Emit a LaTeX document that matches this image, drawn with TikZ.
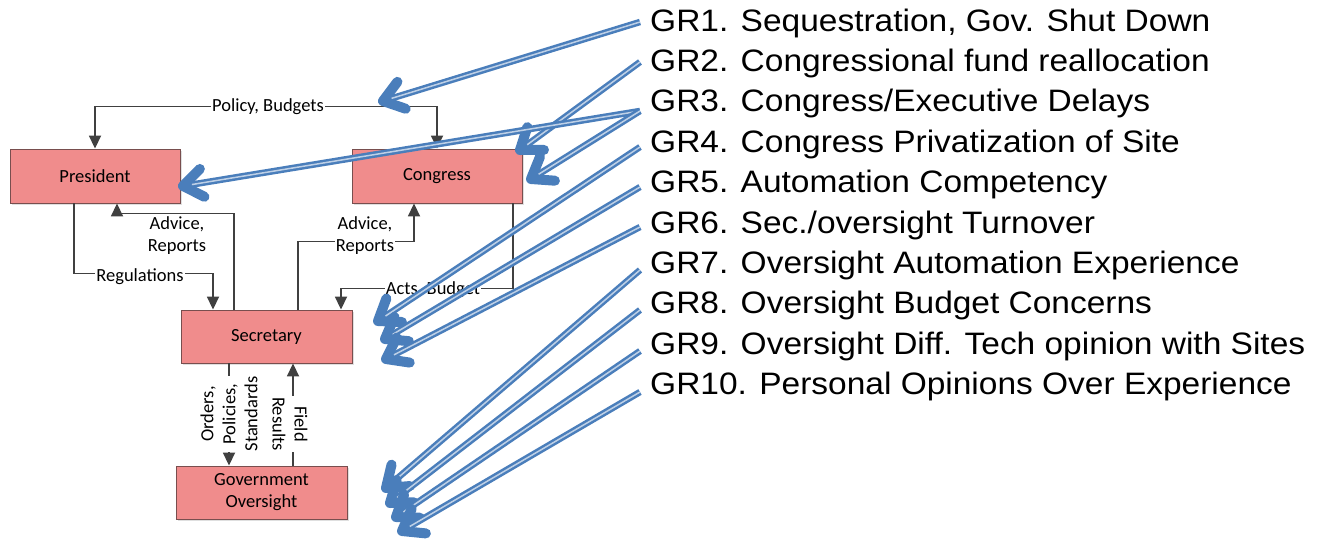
\documentclass[tikz,border=0pt]{standalone}
\usepackage{fontspec}
\setmainfont{Carlito}
\newfontfamily\grfont[FakeStretch=1.08]{Liberation Sans}
\usetikzlibrary{arrows.meta,calc,shadows}
\definecolor{boxfill}{RGB}{240,140,140}
\definecolor{boxline}{RGB}{120,78,78}
\definecolor{connc}{RGB}{64,64,64}
\definecolor{grblue}{RGB}{74,126,187}
\definecolor{grinner}{RGB}{190,208,230}
\tikzset{
  box/.style={draw=boxline, line width=0.9pt, fill=boxfill, font=\fontsize{18.5}{22}\selectfont,
    drop shadow={opacity=0.25, shadow xshift=2pt, shadow yshift=-2pt}, align=center, inner sep=0pt},
  conn/.style={draw=connc, line width=1.8pt, -{Triangle[length=13pt,width=12pt]}},
  lbl/.style={fill=white, inner sep=1pt, font=\fontsize{18.5}{22}\selectfont, align=center, text=black},
  grtext/.style={anchor=base west, inner sep=0pt, font=\grfont\fontsize{31}{36}\selectfont},
  gro/.style={draw=grblue, line width=6.5pt, shorten >=4pt},
  gri/.style={draw=grinner, line width=1.5pt, shorten >=9pt},
  grhead/.style={draw=grblue, line width=10pt, line cap=round, line join=round},
}
\begin{document}
\begin{tikzpicture}[x=1pt,y=-1pt]
\useasboundingbox (0,0) rectangle (1323,539);
% boxes
\node[box, minimum width=170pt, minimum height=54pt] (pres) at (95,176) {President};
\node[box, minimum width=170pt, minimum height=54pt] (cong) at (437,176) {Congress};
\node[box, minimum width=171pt, minimum height=53pt] (sec) at (266.5,336.5) {Secretary};
\node[box, minimum width=171pt, minimum height=53pt] (gov) at (261.5,492.5) {Government\\Oversight};
% connectors
\draw[conn, {Triangle[length=13pt,width=12pt]}-{Triangle[length=13pt,width=12pt]}] (pres.north) -- ++(0,-42) -| (cong.north);
\draw[conn] ($(sec.north)+(-32.5,0)$) -- ++(0,-96) -| ($(pres.south)+(22,0)$);
\draw[conn] ($(pres.south)+(-21,0)$) -- ++(0,70) -| ($(sec.north)+(-53.5,0)$);
\draw[conn] ($(sec.north)+(31.5,0)$) -- ++(0,-68) -| ($(cong.south)+(-23,0)$);
\draw[conn] ($(cong.south)+(76,0)$) -- ++(0,85) -| ($(sec.north)+(74.5,0)$);
\coordinate (o1) at ($(sec.south)+(-37.5,0)$);
\coordinate (f1) at ($(sec.south)+(26.5,0)$);
\draw[conn] (o1) -- (o1 |- gov.north);
\draw[conn] (f1 |- gov.north) -- (f1);
% labels
\node[lbl] (l1) at (268,107) {Policy, Budgets};
\node[lbl] (l2) at (177,236) {Advice,\\Reports};
\node[lbl] (l3) at (140,277) {Regulations};
\node[lbl] (l4) at (365,236) {Advice,\\Reports};
\node[lbl] (l5) at (433,290) {Acts, Budget};
\node[lbl, rotate=90] (l6) at (229,414) {Orders,\\Policies,\\Standards};
\node[lbl, rotate=-90] (l7) at (290,424) {Field\\Results};
% GR texts
\node[grtext] (g1) at (650,31) {GR1. Sequestration, Gov. Shut Down};
\node[grtext] (g2) at (650,71.4) {GR2. Congressional fund reallocation};
\node[grtext] (g3) at (650,111.8) {GR3. Congress/Executive Delays};
\node[grtext] (g4) at (650,152.2) {GR4. Congress Privatization of Site};
\node[grtext] (g5) at (650,192.6) {GR5. Automation Competency};
\node[grtext] (g6) at (650,233) {GR6. Sec./oversight Turnover};
\node[grtext] (g7) at (650,273.4) {GR7. Oversight Automation Experience};
\node[grtext] (g8) at (650,313.8) {GR8. Oversight Budget Concerns};
\node[grtext] (g9) at (650,354.2) {GR9. Oversight Diff. Tech opinion with Sites};
\node[grtext] (g10) at (650,394.6) {GR10. Personal Opinions Over Experience};
% start and end coordinates of the blue arrows
\foreach \i/\y in {1/22,2/62,3/111,4/147,5/187,6/227,7/270,8/310,9/351,10/392}{
  \coordinate (s\i) at (640,\y);
}
\coordinate (t1) at (383,101);
\coordinate (t2) at (520,150);
\coordinate (t3a) at (183,186);
\coordinate (t3b) at (531,179);
\coordinate (t4) at (378,321);
\coordinate (t5) at (385,339);
\coordinate (t6) at (386,359);
\coordinate (t7) at (386,488);
\coordinate (t8) at (390,503);
\coordinate (t9) at (396,517);
\coordinate (t10) at (402,531);
\foreach \a/\b in {s1/t1,s2/t2,s3/t3a,s3/t3b,s4/t4,s5/t5,s6/t6,s7/t7,s8/t8,s9/t9,s10/t10}{
  \draw[gro] (\a) -- (\b);
  \draw[grhead] ($(\b)!24pt!36:(\a)$) -- (\b) -- ($(\b)!24pt!-36:(\a)$);
  \draw[gri] (\a) -- (\b);
}
\end{tikzpicture}
\end{document}
